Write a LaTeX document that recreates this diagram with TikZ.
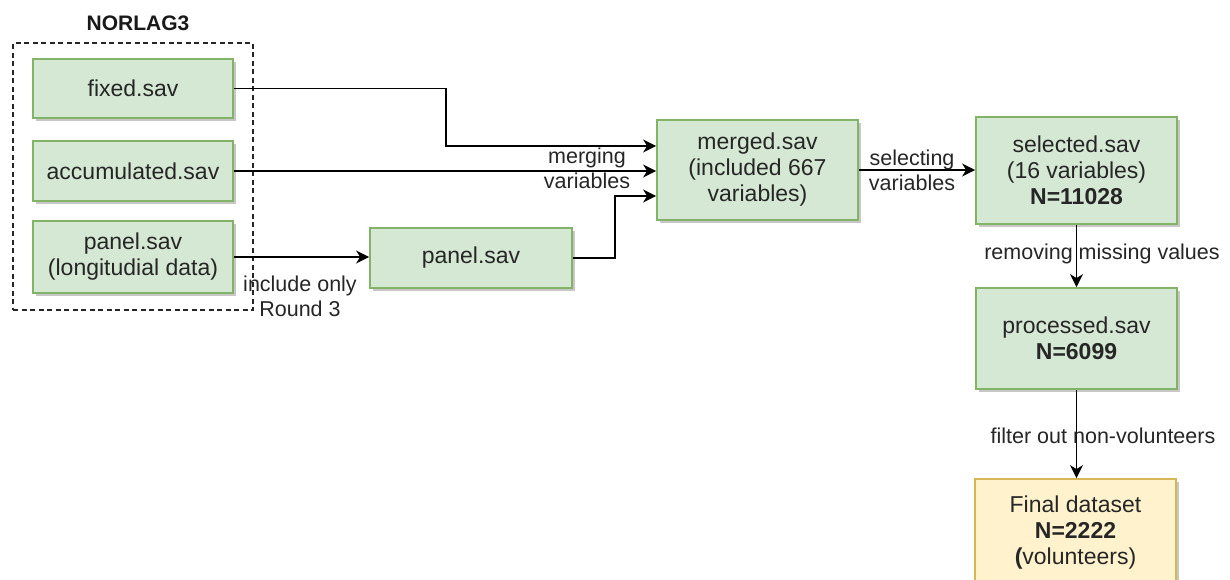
\documentclass[tikz,border=0pt]{standalone}
\usepackage{fontspec}
\setmainfont{Liberation Sans}
\usetikzlibrary{arrows.meta,shadows,calc}
\definecolor{gfill}{HTML}{D5E8D4}
\definecolor{gline}{HTML}{82B366}
\definecolor{yfill}{HTML}{FFF2CC}
\definecolor{yline}{HTML}{D6B656}
\definecolor{ink}{HTML}{262626}
\begin{document}
\begin{tikzpicture}[x=1pt,y=-1pt,
  box/.style={draw=gline, fill=gfill, line width=1.8pt, align=center, text=ink,
    inner sep=0pt, font=\fontsize{23}{26}\selectfont,
    drop shadow={shadow xshift=3pt,shadow yshift=-3pt,fill=black,opacity=0.22}},
  finalbox/.style={box, draw=yline, fill=yfill},
  flow/.style={draw=black, line width=1.8pt, -{Stealth[length=13pt,width=13pt,inset=4pt]}},
  lbl/.style={align=center, text=ink, font=\fontsize{21.5}{25}\selectfont, inner sep=0pt},
  group/.style={draw=black!85, dash pattern=on 5pt off 3.5pt, line width=1.6pt, inner sep=0pt}
]
\useasboundingbox (0,0) rectangle (1230,579);
\clip (0,0) rectangle (1230,579);
\fill[white] (0,0) rectangle (1230,579);

% source files of the survey
\node[group, minimum width=240pt, minimum height=267pt] (norlag) at (133,176.5) {};
\node[font=\bfseries\fontsize{21}{25}\selectfont, text=black!90] (title) at (138,23) {NORLAG3};

\node[box, minimum width=200pt, minimum height=59pt] (fixed) at (133,88.5) {fixed.sav};
\node[box, minimum width=200pt, minimum height=60pt] (accum) at (133,171) {accumulated.sav};
\node[box, minimum width=200pt, minimum height=72pt] (panelL) at (133,257) {panel.sav\\(longitudial data)};

% processing chain
\node[box, minimum width=202pt, minimum height=60pt] (panel) at (471,258) {panel.sav};
\node[box, minimum width=201pt, minimum height=100pt] (merged) at (757.5,170) {merged.sav\\(included 667\\variables)};
\node[box, minimum width=201pt, minimum height=107pt] (selected) at (1076.5,170.5) {selected.sav\\(16 variables)\\\textbf{N=11028}};
\node[box, minimum width=201pt, minimum height=101pt] (processed) at (1076.5,338.5) {processed.sav\\\textbf{N=6099}};
\node[finalbox, minimum width=201pt, minimum height=108pt] (final) at (1075.5,533) {Final dataset\\\textbf{N=2222}\\\textbf{(}volunteers)};

% connectors
\draw[flow] (fixed.east) -- (446,88.5) |- ($(merged.west)+(0,-24)$);
\draw[flow] (accum.east) -- (accum.east -| merged.west);
\draw[flow] (panelL.east) -- (panelL.east -| panel.west);
\draw[flow] (panel.east) -- (615,258) |- ($(merged.west)+(0,26)$);
\draw[flow] (merged.east) -- (merged.east -| selected.west);
\draw[flow] (selected.south) -- (processed.north);
\draw[flow] (processed.south) -- (processed.south |- final.north);

% connector labels
\node[lbl] (lmerge) at (587,168) {merging\\variables};
\node[lbl] (lsel) at (912,170) {selecting\\variables};
\node[lbl] (lround) at (300,296) {include only\\Round 3};
\node[lbl] (lmiss) at (1102,254) {removing missing values};
\node[lbl] (lfilter) at (1103,436) {filter out non-volunteers};
\end{tikzpicture}
\end{document}
